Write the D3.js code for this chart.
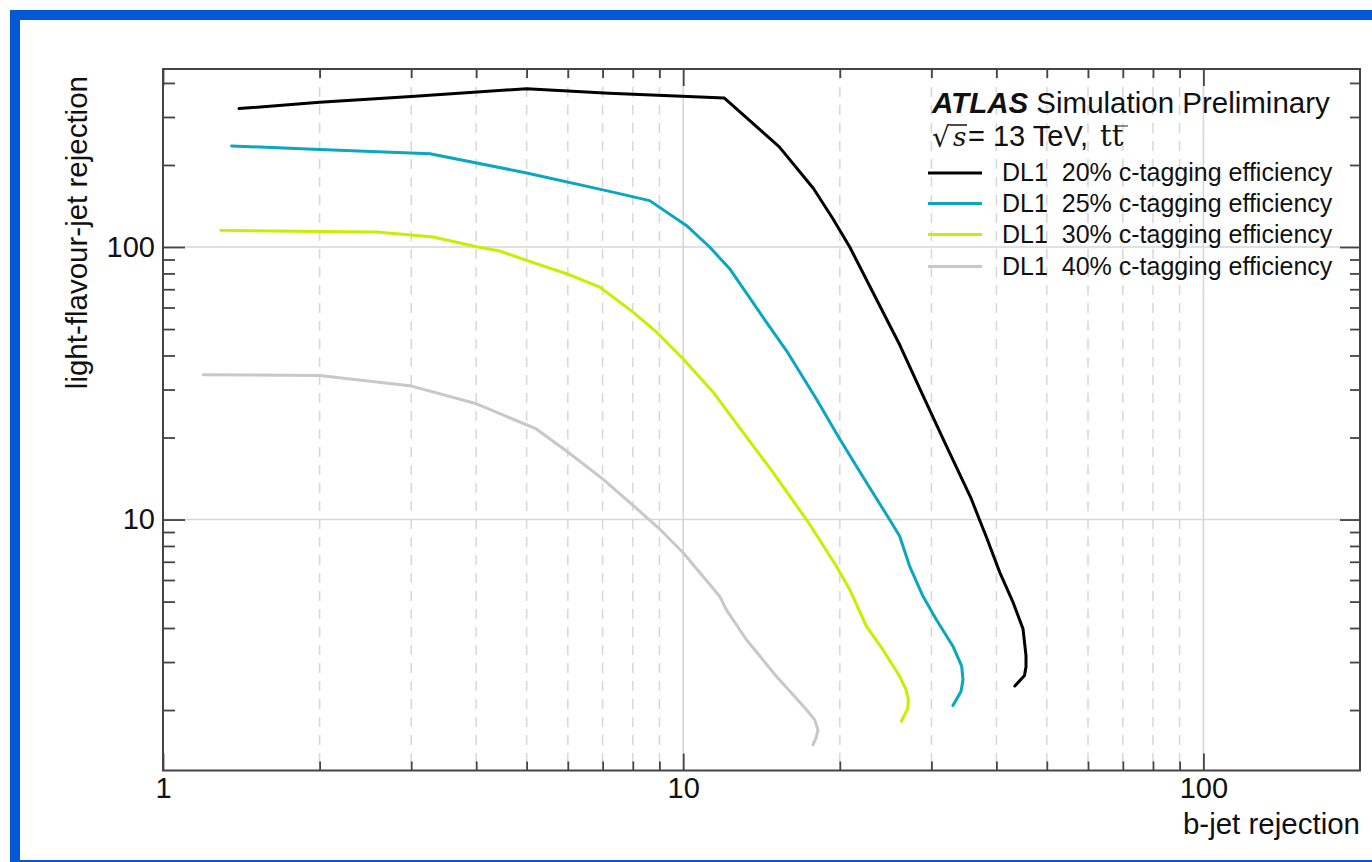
<!DOCTYPE html>
<html>
<head>
<meta charset="utf-8">
<script src="https://cdn.jsdelivr.net/npm/d3@7"></script>
<style>
  html, body { margin: 0; padding: 0; background: #ffffff; }
  svg { display: block; }
  text { font-family: "Liberation Sans", Arial, Helvetica, sans-serif; fill: #111; }
</style>
</head>
<body>
<svg id="chart" width="1372" height="862"></svg>
<script>
// ---- data: b-jet rejection (x) vs light-flavour-jet rejection (y) per working point ----
const seriesLabels = [
  "DL1  20% c-tagging efficiency",
  "DL1  25% c-tagging efficiency",
  "DL1  30% c-tagging efficiency",
  "DL1  40% c-tagging efficiency"
];
const seriesColors = ["#000000", "#0aa6c2", "#c6f000", "#c8c8c8"];

const bRej20 = [1.40, 2.0, 3.0, 5.0, 7.2, 12.0, 15.3, 17.8, 19.4, 20.9, 26.1, 28.8, 31.9, 35.8, 37.1, 38.2, 40.6, 43.0, 45.0, 45.6, 45.6, 45.3, 43.4];
const lRej20 = [322, 340, 357, 381, 367, 352, 233, 164, 127, 100, 43.6, 28.9, 19.0, 11.9, 10.0, 8.7, 6.4, 5.0, 3.97, 3.17, 2.88, 2.68, 2.45];

const bRej25 = [1.355, 2.0, 3.26, 5.0, 7.22, 8.62, 10.14, 11.24, 12.28, 14.45, 15.79, 18.03, 19.98, 22.49, 24.93, 26.06, 27.24, 28.89, 30.65, 33.0, 34.3, 34.5, 34.2, 33.0];
const lRej25 = [235, 228, 220, 187, 160, 148, 120, 100, 83.3, 53.0, 41.7, 27.7, 19.8, 13.7, 10.0, 8.70, 6.75, 5.24, 4.30, 3.43, 2.90, 2.58, 2.34, 2.08];

const bRej30 = [1.292, 2.0, 2.574, 3.307, 4.006, 4.44, 5.0, 5.966, 6.91, 8.01, 8.88, 9.99, 11.41, 13.03, 14.88, 17.25, 17.76, 19.7, 20.9, 22.49, 24.2, 26.06, 26.8, 27.1, 27.0, 26.26];
const lRej30 = [115.1, 114, 113.5, 108.8, 100.3, 96.7, 89.3, 79.8, 71.3, 57.7, 48.8, 38.9, 29.4, 20.9, 14.9, 10.0, 9.19, 6.74, 5.53, 4.06, 3.33, 2.66, 2.38, 2.18, 2.02, 1.82];

const bRej40 = [1.195, 2.0, 2.98, 4.006, 4.85, 5.22, 6.0, 7.0, 8.0, 9.0, 10.0, 11.75, 12.1, 13.22, 15.1, 17.25, 17.9, 18.16, 18.0, 17.76];
const lRej40 = [33.98, 33.8, 31.0, 26.6, 22.8, 21.5, 17.7, 14.1, 11.3, 9.25, 7.55, 5.23, 4.67, 3.63, 2.66, 2.01, 1.84, 1.69, 1.58, 1.49];

const xSeries = [bRej20, bRej25, bRej30, bRej40];
const ySeries = [lRej20, lRej25, lRej30, lRej40];

// axis ticks
const xMajorTicks = [1, 10, 100];
const xMinorTicks = [2, 3, 4, 5, 6, 7, 8, 9, 20, 30, 40, 50, 60, 70, 80, 90];
const yMajorTicks = [10, 100];
const yMinorTicks = [2, 3, 4, 5, 6, 7, 8, 9, 20, 30, 40, 50, 60, 70, 80, 90, 200, 300, 400];
const xTickLabels = ["1", "10", "100"];
const yTickLabels = ["10", "100"];

const xTitle = "b-jet rejection";
const yTitle = "light-flavour-jet rejection";

// ---- layout ----
const svg = d3.select("#chart");
const L = 163, R = 1360, T = 69, B = 770.5;

const x = d3.scaleLog().domain([1, 200]).range([L, R]);
const y = d3.scaleLog().domain([1.2, 450]).range([B, T]);

// slide frame
svg.append("rect")
  .attr("x", 15).attr("y", 15)
  .attr("width", 1420).attr("height", 850)
  .attr("fill", "none")
  .attr("stroke", "#0358d6")
  .attr("stroke-width", 10);

// ---- grid ----
const grid = svg.append("g");
grid.selectAll("line.vminor").data(xMinorTicks).join("line")
  .attr("x1", d => x(d)).attr("x2", d => x(d))
  .attr("y1", T).attr("y2", B)
  .attr("stroke", "#d9d9d9").attr("stroke-width", 1.6)
  .attr("stroke-dasharray", "10,8");
grid.selectAll("line.vmajor").data(xMajorTicks.filter(d => d > 1)).join("line")
  .attr("x1", d => x(d)).attr("x2", d => x(d))
  .attr("y1", T).attr("y2", B)
  .attr("stroke", "#d6d6d6").attr("stroke-width", 1.6);
grid.selectAll("line.hmajor").data(yMajorTicks).join("line")
  .attr("x1", L).attr("x2", R)
  .attr("y1", d => y(d)).attr("y2", d => y(d))
  .attr("stroke", "#d6d6d6").attr("stroke-width", 1.6);

// ---- curves (polylines through the working points) ----
const line = d3.line()
  .x(d => x(d[0]))
  .y(d => y(d[1]))
  .curve(d3.curveLinear);

const curves = svg.append("g");
xSeries.forEach((xs, i) => {
  const pts = xs.map((v, j) => [v, ySeries[i][j]]);
  curves.append("path")
    .attr("d", line(pts))
    .attr("fill", "none")
    .attr("stroke", seriesColors[i])
    .attr("stroke-width", 3)
    .attr("stroke-linejoin", "round")
    .attr("stroke-linecap", "round");
});

// ---- axes (ticks drawn inward) ----
const axisColor = "#444";
function styleAxis(g) {
  g.select(".domain").remove();
  g.selectAll(".tick line").attr("stroke", axisColor).attr("stroke-width", 1.8);
  g.selectAll(".tick text")
    .style("font-family", '"Liberation Sans", Arial, sans-serif')
    .style("font-size", "29px")
    .attr("fill", "#111");
}

svg.append("g").attr("transform", `translate(0,${B})`)
  .call(d3.axisBottom(x).tickValues(xMinorTicks).tickSize(-9).tickFormat(""))
  .call(styleAxis);
svg.append("g").attr("transform", `translate(0,${B})`)
  .call(d3.axisBottom(x).tickValues(xMajorTicks).tickSize(-17).tickPadding(7)
    .tickFormat((d, i) => xTickLabels[i]))
  .call(styleAxis);

svg.append("g").attr("transform", `translate(0,${T})`)
  .call(d3.axisTop(x).tickValues(xMinorTicks).tickSize(-9).tickFormat(""))
  .call(styleAxis);
svg.append("g").attr("transform", `translate(0,${T})`)
  .call(d3.axisTop(x).tickValues(xMajorTicks).tickSize(-17).tickFormat(""))
  .call(styleAxis);

svg.append("g").attr("transform", `translate(${L},0)`)
  .call(d3.axisLeft(y).tickValues(yMinorTicks).tickSize(-12).tickFormat(""))
  .call(styleAxis);
svg.append("g").attr("transform", `translate(${L},0)`)
  .call(d3.axisLeft(y).tickValues(yMajorTicks).tickSize(-22).tickPadding(8)
    .tickFormat((d, i) => yTickLabels[i]))
  .call(styleAxis);

svg.append("g").attr("transform", `translate(${R},0)`)
  .call(d3.axisRight(y).tickValues(yMinorTicks).tickSize(-10).tickFormat(""))
  .call(styleAxis);
svg.append("g").attr("transform", `translate(${R},0)`)
  .call(d3.axisRight(y).tickValues(yMajorTicks).tickSize(-20).tickFormat(""))
  .call(styleAxis);

// frame
svg.append("rect")
  .attr("x", L).attr("y", T)
  .attr("width", R - L).attr("height", B - T)
  .attr("fill", "none")
  .attr("stroke", axisColor)
  .attr("stroke-width", 2);

// axis titles
svg.append("text")
  .attr("x", R).attr("y", 834)
  .attr("text-anchor", "end")
  .style("font-size", "29.5px")
  .text(xTitle);

svg.append("text")
  .attr("transform", "translate(87,76) rotate(-90)")
  .attr("text-anchor", "end")
  .style("font-size", "29.5px")
  .text(yTitle);

// ---- label block & legend ----
const lab = svg.append("g");
const t1 = lab.append("text").attr("x", 932).attr("y", 113).style("font-size", "29.5px");
t1.append("tspan").style("font-weight", "bold").style("font-style", "italic").text("ATLAS");
t1.append("tspan").text(" Simulation Preliminary");

// sqrt(s) = 13 TeV, t tbar
lab.append("text").attr("x", 932).attr("y", 147)
  .style("font-family", '"DejaVu Sans", sans-serif').style("font-size", "28px")
  .text("√");
lab.append("text").attr("x", 953).attr("y", 146)
  .style("font-family", '"DejaVu Serif", serif').style("font-style", "italic").style("font-size", "26px")
  .text("s");
lab.append("line")
  .attr("x1", 950).attr("x2", 967).attr("y1", 125).attr("y2", 125)
  .attr("stroke", "#111").attr("stroke-width", 1.5);
lab.append("text").attr("x", 968).attr("y", 146).style("font-size", "29px")
  .text("= 13 TeV,");
lab.append("text").attr("x", 1100).attr("y", 146)
  .style("font-family", '"DejaVu Serif", serif').style("font-size", "29px")
  .attr("fill", "#555")
  .text("tt");
lab.append("line")
  .attr("x1", 1117).attr("x2", 1128).attr("y1", 126).attr("y2", 126)
  .attr("stroke", "#555").attr("stroke-width", 1.3);

const legendY = [173, 203.5, 234.5, 266.5];
seriesLabels.forEach((s, i) => {
  lab.append("line")
    .attr("x1", 928).attr("x2", 982)
    .attr("y1", legendY[i]).attr("y2", legendY[i])
    .attr("stroke", seriesColors[i]).attr("stroke-width", 3);
  lab.append("text")
    .attr("x", 1002).attr("y", legendY[i] + 8)
    .attr("xml:space", "preserve")
    .style("white-space", "pre")
    .style("font-size", "25px")
    .text(s);
});
</script>
</body>
</html>
